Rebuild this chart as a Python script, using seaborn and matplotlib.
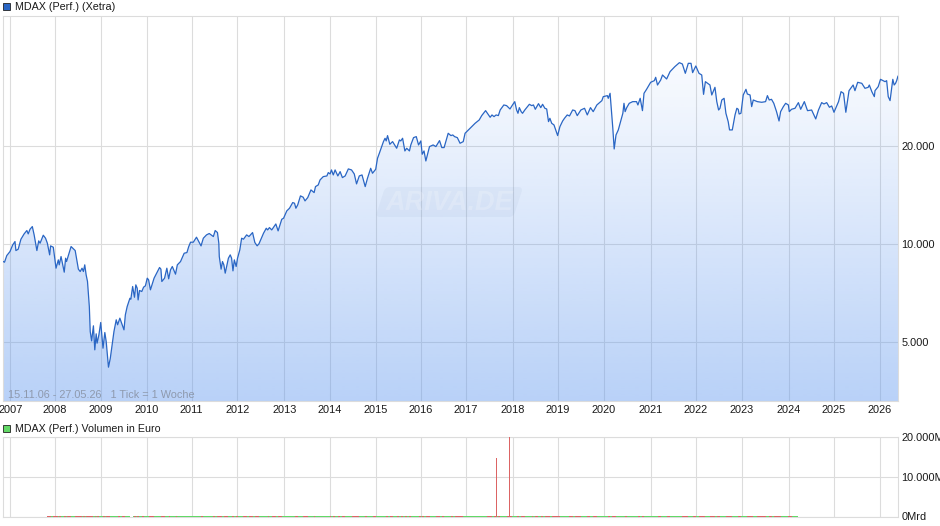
import numpy as np
import pandas as pd
import matplotlib
matplotlib.use("Agg")
import matplotlib.pyplot as plt
from matplotlib.patches import Rectangle, FancyBboxPatch
from matplotlib.transforms import Affine2D, ScaledTranslation
import seaborn as sns

# Index level (date in decimal years, value in points)
dates_a = [
 2006.86,2006.89,2006.94,2007.01,2007.07,2007.12,2007.14,2007.19,2007.25,2007.32,
 2007.38,2007.41,2007.45,2007.50,2007.54,2007.60,2007.64,2007.67,2007.74,2007.79,
 2007.83,2007.88,2007.90,2007.96,2008.02,2008.07,2008.09,2008.13,2008.20,2008.23,
 2008.25,2008.35,2008.44,2008.51,2008.55,2008.59,2008.62,2008.65,2008.68,2008.71,
 2008.75,2008.77,2008.80,2008.84,2008.87,2008.90,2008.92,2008.96,2009.00,2009.05,
 2009.09,2009.12,2009.17,2009.21,2009.29,2009.34,2009.37,2009.42,2009.47,2009.51,
 2009.54,2009.58,2009.64,2009.66,2009.70,2009.74,2009.77,2009.80,2009.82,2009.85,
 2009.90,2009.94,2009.98,2010.02,2010.05,2010.09,2010.17,2010.29,2010.32,2010.34,
 2010.40,2010.45,2010.49,2010.53,2010.57,2010.64,2010.68,2010.75,2010.83,2010.89,
 2010.93,2010.97,2011.03,2011.10,2011.20,2011.25,2011.32,2011.38,2011.47,2011.51,
 2011.56,2011.59,2011.60,2011.64,2011.67,2011.70,2011.73,2011.80,2011.84,2011.87,
 2011.90,2011.93,2011.97,2012.00,
]
prices_a = [
 8857,8816,9241,9505,9964,10203,9573,9664,10372,10771,
 11030,10771,11133,11345,10695,9573,10251,10082,10670,10446,
 10082,9285,9894,9801,8450,8962,8652,9176,8215,9069,
 8857,9848,9573,8391,8253,8450,8253,8652,8062,7690,
 6441,5397,5052,5620,4741,5310,4970,5272,5754,4797,
 5360,5029,4194,4467,5397,5864,5661,5933,5661,5462,
 6073,6441,6830,6782,7422,6879,7510,7335,6750,7216,
 7165,7388,7458,7874,7781,7250,7874,8491,8391,7690,
 7874,8450,7837,8350,8551,8099,8652,8857,9394,9438,
 9848,10155,10155,10521,9894,10446,10695,10800,10569,11030,
 10874,10082,9176,8391,8857,8652,8157,9069,9285,9069,
 8291,8962,8551,9069,
]
dates_b = [
 2012.05,2012.09,2012.13,2012.20,2012.25,2012.33,2012.38,2012.43,2012.47,2012.57,
 2012.63,2012.66,2012.70,2012.75,2012.84,2012.89,2012.97,2013.01,2013.08,2013.14,
 2013.21,2013.25,2013.28,2013.32,2013.38,2013.44,2013.48,2013.54,2013.61,2013.68,
 2013.71,2013.77,2013.81,2013.88,2013.96,2013.99,2014.03,2014.06,2014.10,2014.14,
 2014.20,2014.25,2014.30,2014.36,2014.43,2014.50,2014.56,2014.61,2014.67,2014.73,
 2014.80,2014.85,2014.92,2014.96,2015.03,2015.07,2015.11,2015.20,2015.235,2015.26,
 2015.29,2015.34,2015.40,2015.49,2015.55,2015.58,2015.62,2015.67,2015.71,2015.77,
 2015.80,2015.86,2015.92,2015.97,2016.02,2016.05,2016.09,2016.13,2016.21,2016.29,
 2016.35,2016.43,2016.48,2016.53,2016.62,2016.68,2016.72,2016.76,2016.82,2016.88,
 2016.95,2016.99,
]
prices_b = [
 9619,10446,10374,10696,10571,10872,10134,9898,10039,10821,
 11209,11078,11262,11078,11555,11002,11945,12036,12674,12916,
 13445,13381,12916,13225,14095,13962,13603,13929,14704,14426,
 15052,15230,15782,16155,16231,16621,16463,16937,16348,16937,
 16231,16738,16042,16231,17059,16937,16463,15342,16231,16348,
 15052,15968,17137,16543,17017,18394,19058,20696,21189,20798,
 21592,20307,20696,19744,20941,20797,21189,19372,19744,19372,
 20213,21287,21439,20213,20797,18926,19372,18045,19977,20213,
 19977,20843,19839,19839,21952,21592,21695,21439,21287,20455,
 20696,21952,
]
dates_c = [
 2017.10,2017.21,2017.30,2017.355,2017.44,2017.48,2017.54,2017.58,2017.625,2017.67,
 2017.72,2017.76,2017.84,2017.90,2017.975,2018.03,2018.08,2018.12,2018.15,2018.18,
 2018.22,2018.25,2018.30,2018.40,2018.45,2018.49,2018.53,2018.60,2018.65,2018.69,
 2018.74,2018.78,2018.82,2018.85,2018.89,2018.94,2019.02,2019.07,2019.13,2019.17,
 2019.23,2019.28,2019.35,2019.40,2019.45,2019.53,2019.61,2019.67,2019.74,2019.80,
 2019.88,2019.99,2020.02,2020.11,2020.13,2020.17,2020.205,2020.23,2020.26,2020.30,
 2020.35,2020.40,2020.45,2020.475,2020.50,2020.535,2020.57,2020.59,2020.666,2020.75,
 2020.78,2020.83,2020.88,2020.914,2020.97,2021.06,2021.14,2021.17,2021.21,2021.28,
 2021.32,2021.41,2021.485,2021.59,2021.69,2021.755,2021.82,2021.885,2021.945,2021.98,
]
prices_c = [
 22740,23561,24122,24877,25769,25286,24583,24992,24698,24992,
 24877,25889,26822,26698,26071,26822,27461,25889,25286,26321,
 25583,25286,25889,26948,26698,26822,26012,27072,26321,26948,
 26198,26071,23837,24406,23559,23284,21597,23009,23948,24406,
 24993,24813,25889,25765,24872,25889,26198,24993,26321,25583,
 26822,27656,28450,28651,28116,29130,25286,22740,19644,21692,
 22475,23837,25286,27137,25583,26321,26822,27140,27461,27461,
 26823,28117,25763,29126,29962,31485,31857,32621,30891,32011,
 33159,32233,33950,35173,36182,35842,33555,36012,36012,33713,
]
dates_d = [
 2022.05,2022.12,2022.18,2022.22,2022.26,2022.36,2022.40,2022.47,2022.51,2022.55,
 2022.58,2022.62,2022.67,2022.71,2022.76,2022.79,2022.85,2022.91,2022.95,2022.98,
 2023.00,2023.04,2023.09,2023.15,2023.18,2023.24,2023.275,2023.31,2023.40,2023.495,
 2023.58,2023.62,2023.66,2023.71,2023.76,2023.82,2023.875,2023.91,2023.97,2024.02,
 2024.08,2024.10,2024.15,2024.225,2024.30,2024.35,2024.43,2024.50,2024.59,2024.68,
 2024.74,2024.81,2024.86,2024.92,2024.98,2025.03,2025.08,2025.18,2025.235,2025.29,
 2025.34,2025.41,2025.50,2025.54,2025.60,2025.69,2025.76,2025.83,2025.855,2025.91,
 2025.965,2025.98,2026.05,2026.10,2026.20,2026.235,2026.27,2026.31,2026.37,2026.40,
 2026.43,2026.455,2026.484,
]
prices_d = [
 35340,33555,33159,28913,31631,30891,28786,30389,27461,25881,
 26198,27785,28117,25291,23843,22478,22478,24995,26198,26016,
 25161,25291,28786,29962,28980,28786,26510,27785,27461,27334,
 27461,28652,27785,27916,27140,25589,23946,25589,26510,27140,
 26823,25589,26016,26198,27271,26016,27461,25763,25881,24298,
 25881,27271,27013,27271,26388,26630,25470,27461,29471,29126,
 25470,29680,30891,29680,31485,31260,30175,30389,30891,29471,
 28450,29680,30531,32158,31631,31857,28450,27662,32158,30891,
 31260,31857,32921,
]

# Gridlines sit on the chart's weekly raster, so the years are not evenly spaced
year_positions = [2007.000,2007.987,2008.996,2010.004,2010.991,2011.999,2013.030,
                  2014.029,2015.037,2016.024,2017.011,2018.042,2019.029,2020.037,
                  2021.068,2022.055,2023.053,2024.083,2025.070,2026.079]
year_labels = [str(y) for y in range(2007, 2027)]
price_ticks = [5000, 10000, 20000]
price_tick_labels = ["5.000", "10.000", "20.000"]
volume_ticks = [0, 10000, 20000]
volume_tick_labels = ["0Mrd", "10.000M", "20.000M"]

# Volume: two spikes, and a hairline level over the covered period
spike_dates = [2017.675, 2017.96]
spike_volumes = [14700, 21000]
hairline_volume = 220
volume_start, volume_end = 2007.80, 2024.27
volume_gap = (2009.60, 2009.70)

dates = np.array(dates_a + dates_b + dates_c + dates_d)
prices = np.array(prices_a + prices_b + prices_c + prices_d, dtype=float)
frame = pd.DataFrame({"date": dates, "price": prices})

W, H = 940, 526
sns.set_theme(style="white")
plt.rcParams["font.family"] = ["Liberation Sans", "DejaVu Sans"]
GRID = "#dcdcdc"
TEXT = "#1a1a1a"
BLUE = "#2a66c4"
UP, DOWN = "#62d866", "#dc6464"


def axes_box(x0, y0, x1, y1):
    return [x0 / W, 1 - y1 / H, (x1 - x0) / W, (y1 - y0) / H]


fig = plt.figure(figsize=(W / 100, H / 100), dpi=100, facecolor="white")
ax = fig.add_axes(axes_box(3, 16, 898, 401))
vax = fig.add_axes(axes_box(3, 437, 898, 516.5))

XLIM = (2006.857, 2026.484)
YLIM = (3301, 50340)

# Gradient area under the line
ax.set_yscale("log")
poly = ax.fill_between(dates, prices, YLIM[0], facecolor="none", linewidth=0)
n = 256
rgba = np.zeros((n, 1, 4))
rgba[..., 0], rgba[..., 1], rgba[..., 2] = 0x5f / 255, 0x97 / 255, 0xef / 255
rgba[:, 0, 3] = np.clip(np.linspace(-0.017, 0.44, n), 0, 1)
im = ax.imshow(rgba, extent=[0, 1, 0, 1], transform=ax.transAxes, aspect="auto",
               origin="upper", zorder=1, interpolation="bilinear")
im.set_clip_path(poly.get_paths()[0], transform=ax.transData)

sns.lineplot(data=frame, x="date", y="price", ax=ax, color=BLUE, linewidth=0.9,
             estimator=None, sort=False, zorder=3, legend=False)

ax.set_xlim(XLIM)
ax.set_ylim(YLIM)
ax.set_xlabel("")
ax.set_ylabel("")
ax.set_xticks(year_positions, year_labels)
ax.set_yticks(price_ticks, price_tick_labels)
ax.minorticks_off()
ax.yaxis.tick_right()

# Volume panel
mask = (dates >= volume_start) & (dates <= volume_end) & ~((dates > volume_gap[0]) & (dates < volume_gap[1]))
vol_dates = dates[mask]
steps = np.diff(dates, append=dates[-1] + 0.03)[mask]
moves = np.diff(prices, prepend=prices[0])[mask]
vax.bar(vol_dates, hairline_volume, width=steps, align="edge",
        color=[UP if m >= 0 else DOWN for m in moves], linewidth=0, zorder=3)
vax.bar(spike_dates, spike_volumes, width=0.03, color=DOWN, linewidth=0, zorder=4)
vax.set_xlim(XLIM)
vax.set_ylim(0, 20000)
vax.set_xticks(year_positions, [""] * len(year_positions))
vax.set_yticks(volume_ticks, volume_tick_labels)
vax.yaxis.tick_right()

for a in (ax, vax):
    a.set_axisbelow(True)
    a.grid(True, color=GRID, linewidth=0.8)
    a.tick_params(axis="both", length=0, labelsize=7.9, colors=TEXT)
    a.tick_params(axis="y", pad=2.4)
    a.tick_params(axis="x", pad=3.2)
    for s in a.spines.values():
        s.set_color(GRID)
        s.set_linewidth(0.8)

# Keep the first year label fully inside the left edge
first = ax.get_xticklabels()[0]
first.set_transform(first.get_transform() + ScaledTranslation(1.5 / 100, 0, fig.dpi_scale_trans))


# Titles with colour squares
def fx(x):
    return x / W


def fy(y):
    return 1 - y / H


for y, colour, label, size in [(6.0, BLUE, "MDAX (Perf.) (Xetra)", 7.75),
                               (428.0, UP, "MDAX (Perf.) Volumen in Euro", 7.65)]:
    fig.add_artist(Rectangle((fx(3), fy(y + 3.5)), 7 / W, 7 / H, transform=fig.transFigure,
                             facecolor=colour, edgecolor="#222222", linewidth=0.6))
    fig.text(fx(15), fy(y + 0.9), label, fontsize=size, color=TEXT, va="center", ha="left")

# Caption inside the chart
fig.text(fx(8), fy(395), "15.11.06 - 27.05.26   1 Tick = 1 Woche", fontsize=7.85,
         color="#8e99ad", va="center", ha="left", zorder=5)

# Watermark
skew = Affine2D().skew_deg(18, 0).translate(-104, 0)
fig.add_artist(FancyBboxPatch((383, 313), 130, 22, boxstyle="round,pad=4,rounding_size=5",
                              transform=skew, facecolor="#5878a8", edgecolor="none", alpha=0.06))
fig.text(fx(449), fy(203), "ARIVA.DE", fontsize=19.5, fontweight="bold", fontstyle="italic",
         color="white", alpha=0.2, va="center", ha="center", zorder=5)

fig.savefig("out.png", dpi=100, facecolor="white")
